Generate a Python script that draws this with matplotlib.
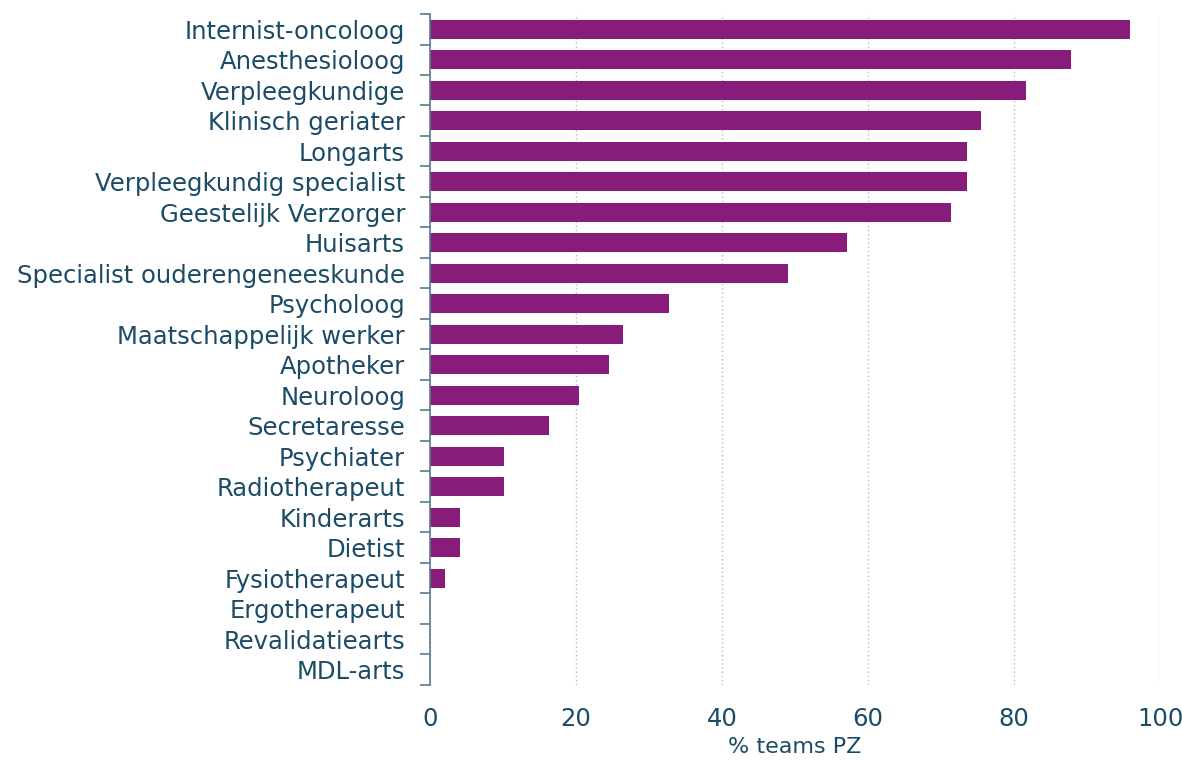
import matplotlib
matplotlib.use("Agg")
import matplotlib.pyplot as plt
import numpy as np

categories = [
    "Internist-oncoloog", "Anesthesioloog", "Verpleegkundige", "Klinisch geriater",
    "Longarts", "Verpleegkundig specialist", "Geestelijk Verzorger", "Huisarts",
    "Specialist ouderengeneeskunde", "Psycholoog", "Maatschappelijk werker",
    "Apotheker", "Neuroloog", "Secretaresse", "Psychiater", "Radiotherapeut",
    "Kinderarts", "Dietist", "Fysiotherapeut", "Ergotherapeut", "Revalidatiearts",
    "MDL-arts",
]
values = [95.9, 87.8, 81.6, 75.5, 73.5, 73.5, 71.4, 57.1, 49.0, 32.7, 26.5,
          24.5, 20.4, 16.3, 10.2, 10.2, 4.1, 4.1, 2.0, 0.0, 0.0, 0.0]
xticks = [0, 20, 40, 60, 80, 100]
xlabel = "% teams PZ"

bar_color = "#871C7B"
text_color = "#1B4B66"
axis_color = "#5A7A90"

plt.rcParams['font.family'] = ['DejaVu Sans']

fig = plt.figure(figsize=(11.82, 7.61), dpi=100)
ax = fig.add_axes([0.3638, 0.0999, 0.6176, 0.8817])

n = len(categories)
y = np.arange(n)
ax.barh(y, values, height=0.62, color=bar_color, zorder=3)

ax.set_ylim(n - 0.5, -0.5)
ax.set_xlim(0, 100)

ax.set_yticks(y)
ax.set_yticklabels(categories, fontsize=17.5, color=text_color)
ax.tick_params(axis='y', which='major', length=0, pad=18)
ax.set_yticks(np.arange(-0.5, n, 1.0), minor=True)
ax.tick_params(axis='y', which='minor', length=7, width=1.2, color=axis_color, direction='out')

ax.set_xticks(xticks)
ax.set_xticklabels([str(t) for t in xticks], fontsize=17.5, color=text_color)
ax.tick_params(axis='x', length=0, pad=16)
ax.set_xlabel(xlabel, fontsize=16, color=text_color, labelpad=4)

ax.grid(axis='x', color="#A9BCD0", linestyle=(0, (1, 2)), linewidth=1, zorder=0)
for s in ['top', 'right', 'bottom']:
    ax.spines[s].set_visible(False)
ax.spines['left'].set_color(axis_color)
ax.spines['left'].set_linewidth(1.2)
ax.spines['left'].set_zorder(4)

fig.savefig("out.png", dpi=100)
